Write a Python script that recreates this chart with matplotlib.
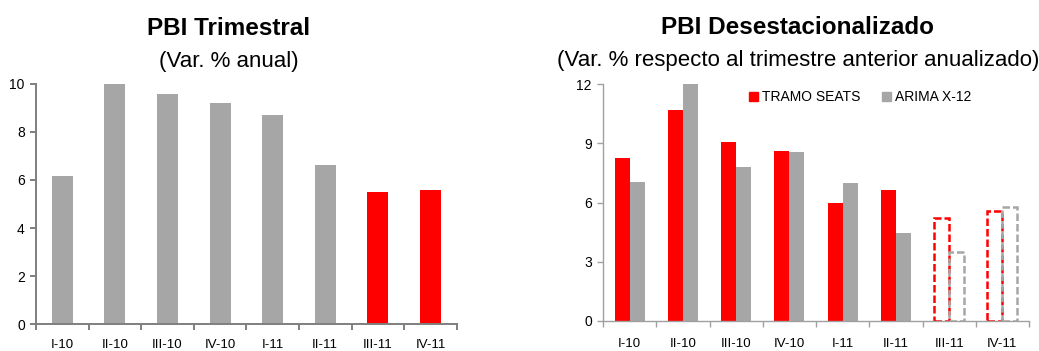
import matplotlib
matplotlib.use("Agg")
import matplotlib.pyplot as plt
import numpy as np
from matplotlib.patches import Patch

########################################################################################################################
# data
########################################################################################################################

quarters = ['I-10', 'II-10', 'III-10', 'IV-10', 'I-11', 'II-11', 'III-11', 'IV-11']
# var. % anual
pbi_anual = [6.17, 10.0, 9.58, 9.2, 8.7, 6.62, 5.5, 5.58]
# var. % trimestral anualizada, desestacionalizada
tramo_seats = [8.25, 10.68, 9.06, 8.6, 5.97, 6.63, 5.2, 5.55]
arima_x12 = [7.04, 12.0, 7.8, 8.56, 6.99, 4.46, 3.51, 5.79]
n_observed = 6  # the rest are projections
series_names = ['TRAMO SEATS', 'ARIMA X-12']

RED = '#ff0000'
GRAY = '#a6a6a6'
plt.rcParams['font.family'] = ['Liberation Sans', 'DejaVu Sans']

########################################################################################################################
# utils
########################################################################################################################


def style_axis(ax, ymax, ystep, spine_color, spine_width, xpad):
    x = np.arange(len(quarters))
    ax.set_xlim(-0.5, len(quarters) - 0.5)
    ax.set_ylim(0, ymax)
    ax.set_yticks(np.arange(0, ymax + 0.1, ystep))
    ax.set_xticks(x)
    ax.set_xticklabels(quarters, fontsize=9.5)
    # category separators as tick marks on the x axis
    ax.set_xticks(np.arange(-0.5, len(quarters)), minor=True)
    ax.tick_params(axis='x', which='major', length=0, pad=xpad)
    ax.tick_params(axis='x', which='minor', length=4, color=spine_color, width=spine_width)
    ax.tick_params(axis='y', length=4, color=spine_color, width=spine_width, labelsize=10, pad=4)
    for side in ['top', 'right']:
        ax.spines[side].set_visible(False)
    for side in ['left', 'bottom']:
        ax.spines[side].set_color(spine_color)
        ax.spines[side].set_linewidth(spine_width)


########################################################################################################################
# figure
########################################################################################################################

fig = plt.figure(figsize=(10.39, 3.51), dpi=100)

# left: PBI trimestral
ax1 = fig.add_axes([0.0346, 0.0769, 0.405, 0.6838])
x = np.arange(len(quarters))
colors = [GRAY] * n_observed + [RED] * (len(quarters) - n_observed)
ax1.bar(x, pbi_anual, width=0.4, color=colors, zorder=2)
style_axis(ax1, 10, 2, '#7f7f7f', 1.4, 11)

fig.text(0.2204, 0.918, 'PBI Trimestral', ha='center', va='center',
         fontsize=17.5, fontweight='bold')
fig.text(0.2204, 0.824, '(Var. % anual)', ha='center', va='center',
         fontsize=16)

# right: PBI desestacionalizado
ax2 = fig.add_axes([0.5804, 0.0855, 0.41, 0.675])
w = 0.28
obs = x[:n_observed]
proj = x[n_observed:]
ax2.bar(obs - w / 2, tramo_seats[:n_observed], width=w, color=RED, zorder=2)
ax2.bar(obs + w / 2, arima_x12[:n_observed], width=w, color=GRAY, zorder=2)
ax2.bar(proj - w / 2, tramo_seats[n_observed:], width=w, facecolor='none',
        edgecolor=RED, linestyle=(0, (3, 1.2)), linewidth=1.8, zorder=2)
ax2.bar(proj + w / 2, arima_x12[n_observed:], width=w, facecolor='none',
        edgecolor=GRAY, linestyle=(0, (3, 1.2)), linewidth=1.8, zorder=2)
style_axis(ax2, 12, 3, '#a0a0a0', 1.0, 12)

handles = [Patch(color=RED), Patch(color=GRAY)]
ax2.legend(handles, series_names, loc='center left', bbox_to_anchor=(0.33, 0.945),
           ncol=2, frameon=False, fontsize=10, handlelength=0.6, handleheight=0.6,
           handletextpad=0.3, columnspacing=1.6, borderaxespad=0)

fig.text(0.768, 0.922, 'PBI Desestacionalizado', ha='center', va='center',
         fontsize=17.5, fontweight='bold')
fig.text(0.768, 0.828, '(Var. % respecto al trimestre anterior anualizado)', ha='center', va='center',
         fontsize=16)

plt.savefig('out.png', dpi=100)
